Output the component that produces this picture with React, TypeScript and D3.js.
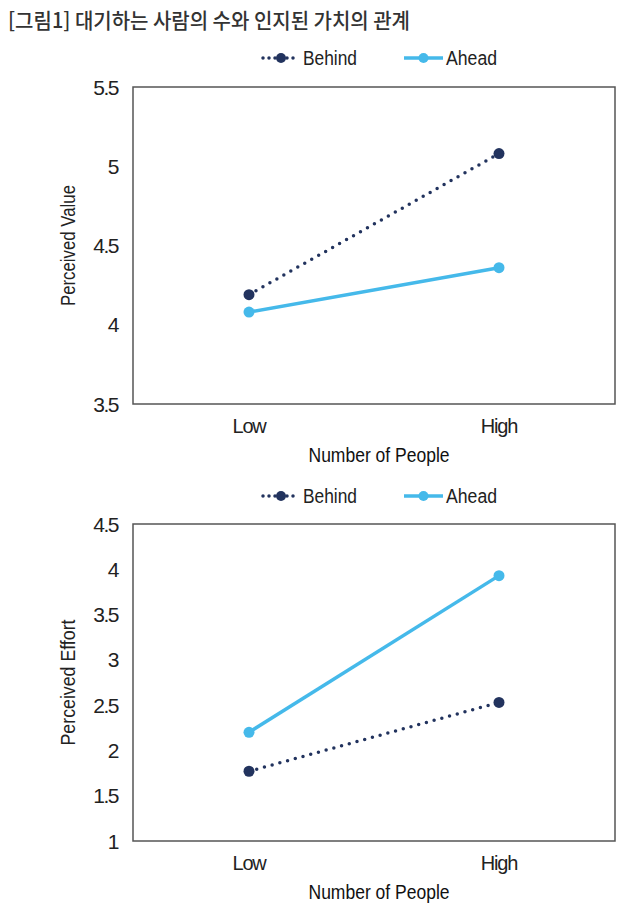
import React from "react";
import * as d3 from "d3";

const categories = ["Low", "High"];
const valueBehind = [4.19, 5.08];
const valueAhead = [4.08, 4.36];
const effortBehind = [1.77, 2.53];
const effortAhead = [2.2, 3.93];
const valueTicks = [3.5, 4, 4.5, 5, 5.5];
const effortTicks = [1, 1.5, 2, 2.5, 3, 3.5, 4, 4.5];
const seriesNames = ["Behind", "Ahead"];

const NAVY = "#22335e";
const BLUE = "#45b9ea";
const TEXT = "#222";
const FONT = "'Liberation Sans', Arial, sans-serif";

type PanelProps = {
  top: number;
  bottom: number;
  domain: [number, number];
  ticks: number[];
  behind: number[];
  ahead: number[];
  yTitle: string;
  yTitleLen: number;
  legendY: number;
};

const LEFT = 133;
const RIGHT = 615;

function Legend({ y }: { y: number }) {
  const bx0 = 263, bx1 = 299;
  const ax0 = 404, ax1 = 443;
  return (
    <g>
      <line x1={bx0} x2={bx1} y1={y} y2={y} stroke={NAVY} strokeWidth={3.5}
        strokeDasharray="0 6" strokeLinecap="round" />
      <circle cx={(bx0 + bx1) / 2} cy={y} r={5} fill={NAVY} />
      <text x={303} y={y} dy="0.36em" fontSize={20} fill={TEXT} fontFamily={FONT}
        textLength={54} lengthAdjust="spacingAndGlyphs">{seriesNames[0]}</text>
      <line x1={ax0} x2={ax1} y1={y} y2={y} stroke={BLUE} strokeWidth={3.5} />
      <circle cx={(ax0 + ax1) / 2} cy={y} r={5} fill={BLUE} />
      <text x={446} y={y} dy="0.36em" fontSize={20} fill={TEXT} fontFamily={FONT}
        textLength={51} lengthAdjust="spacingAndGlyphs">{seriesNames[1]}</text>
    </g>
  );
}

function Panel(p: PanelProps) {
  const x = d3.scalePoint<string>().domain(categories).range([LEFT, RIGHT]).padding(0.464);
  const y = d3.scaleLinear().domain(p.domain).range([p.bottom, p.top]);
  const line = d3
    .line<number>()
    .x((_, i) => x(categories[i]) as number)
    .y((d) => y(d));
  return (
    <g>
      <Legend y={p.legendY} />
      <rect x={LEFT} y={p.top} width={RIGHT - LEFT} height={p.bottom - p.top}
        fill="none" stroke="#555" strokeWidth={1.5} />
      {p.ticks.map((t) => (
        <text key={t} x={118} y={y(t)} dy="0.36em" textAnchor="end" fontSize={21}
          fill={TEXT} fontFamily={FONT} letterSpacing={-1.5}>{d3.format("")(t)}</text>
      ))}
      <text transform={`translate(68,${(p.top + p.bottom) / 2}) rotate(-90)`} textAnchor="middle"
        dy="0.36em" fontSize={20} fill={TEXT} fontFamily={FONT}
        textLength={p.yTitleLen} lengthAdjust="spacingAndGlyphs">{p.yTitle}</text>
      {categories.map((c) => (
        <text key={c} x={x(c)} y={p.bottom + 22} dy="0.36em" textAnchor="middle" fontSize={20}
          fill={TEXT} fontFamily={FONT} letterSpacing={-1.2}>{c}</text>
      ))}
      <text x={379} y={p.bottom + 51} dy="0.36em" textAnchor="middle" fontSize={20}
        fill="#111" fontFamily={FONT} fontWeight={500}
        textLength={141} lengthAdjust="spacingAndGlyphs">Number of People</text>
      <path d={line(p.ahead) || ""} fill="none" stroke={BLUE} strokeWidth={3.5} />
      <path d={line(p.behind) || ""} fill="none" stroke={NAVY} strokeWidth={3.5}
        strokeDasharray="0 8" strokeLinecap="round" />
      {p.ahead.map((v, i) => (
        <circle key={"a" + i} cx={x(categories[i])} cy={y(v)} r={5.5} fill={BLUE} />
      ))}
      {p.behind.map((v, i) => (
        <circle key={"b" + i} cx={x(categories[i])} cy={y(v)} r={5.5} fill={NAVY} />
      ))}
    </g>
  );
}

export default function App() {
  return (
    <svg width={640} height={910} style={{ position: "absolute", left: 0, top: 0, background: "#fff" }}>
      <rect width={640} height={910} fill="#fff" />
      <text x={8} y={20} dy="0.36em" fontSize={21} fill="#333"
        fontFamily="'Noto Sans CJK KR', sans-serif" fontWeight={500}
        textLength={402} lengthAdjust="spacingAndGlyphs">[그림1] 대기하는 사람의 수와 인지된 가치의 관계</text>
      <Panel top={87} bottom={404} domain={[3.5, 5.5]} ticks={valueTicks}
        behind={valueBehind} ahead={valueAhead} yTitle="Perceived Value" yTitleLen={121} legendY={58} />
      <Panel top={524} bottom={841} domain={[1, 4.5]} ticks={effortTicks}
        behind={effortBehind} ahead={effortAhead} yTitle="Perceived Effort" yTitleLen={126} legendY={496} />
    </svg>
  );
}
